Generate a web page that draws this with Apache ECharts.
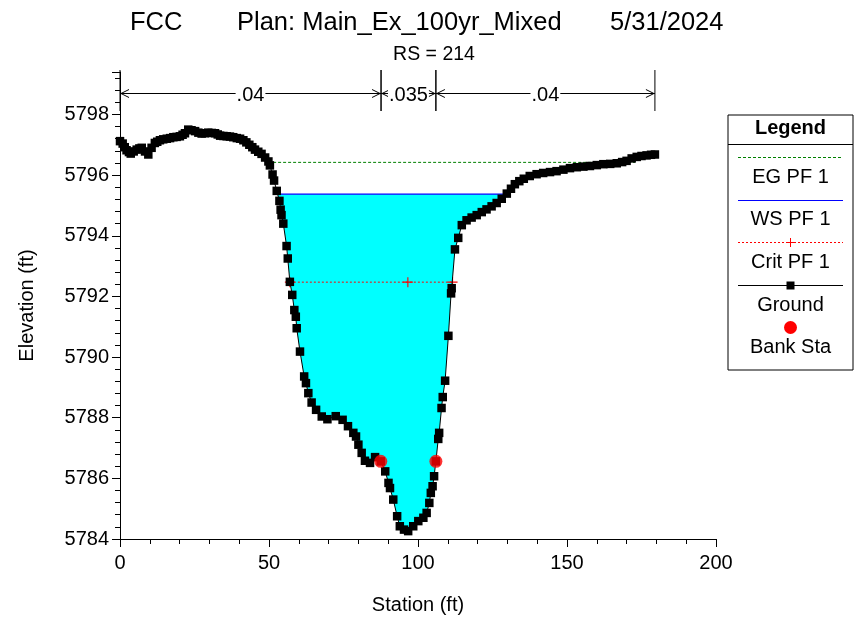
<!DOCTYPE html>
<html><head><meta charset="utf-8">
<script src="https://cdn.jsdelivr.net/npm/echarts@6/dist/echarts.min.js"></script>
<style>html,body{margin:0;padding:0;background:#fff}#c{width:855px;height:621px}</style>
</head><body><div id="c"></div>
<script>
// ---------- data ----------
const groundStation = [0,0.9,1.6,2.2,3.0,3.6,4.6,5.6,6.5,7.3,8.4,9.5,10.6,11.7,12.5,13.4,14.5,15.7,16.8,17.9,19.0,20.1,21.0,21.8,22.9,24.0,25.2,26.3,27.4,28.5,29.6,30.8,31.9,32.8,33.6,34.7,35.8,36.9,38,39.2,40.3,41.4,42.4,43.4,44.4,45.3,46.4,47.5,48.7,49.8,50.3,51.2,51.7,52.6,53.5,53.9,54.2,54.8,55.9,56.3,57.0,57.8,58.5,59.0,59.3,60.4,61.8,62.4,63.2,64.3,65.8,67.7,69.6,72.4,74.7,76.5,78.3,79.2,80.0,81.1,82.2,83.9,85.6,87.5,89.0,90.1,90.6,91.7,93.0,93.9,95.3,96.7,98.4,100.1,101.8,102.9,103.8,104.3,104.9,105.4,106.0,106.8,107.1,107.9,108.3,109.1,110.2,111.1,111.3,112.4,113.5,114.7,116.3,118,119.7,121.4,123,124.7,126.4,128.1,129.8,131.2,132.5,134,135.5,137.5,139.8,142,144.3,146.5,148.8,151,153.3,155.5,157.7,160,162.2,164.5,166.7,168.5,170.0,171.7,173.4,175,176.7,178.2,179.5];
const groundElev = [5797.12,5797.04,5796.92,5796.82,5796.76,5796.71,5796.78,5796.84,5796.88,5796.9,5796.78,5796.68,5796.9,5797.06,5797.1,5797.15,5797.18,5797.2,5797.22,5797.25,5797.26,5797.28,5797.33,5797.38,5797.5,5797.48,5797.45,5797.4,5797.37,5797.38,5797.4,5797.39,5797.38,5797.34,5797.3,5797.29,5797.28,5797.27,5797.25,5797.22,5797.2,5797.15,5797.08,5797.0,5796.92,5796.84,5796.77,5796.7,5796.58,5796.45,5796.32,5796.02,5795.82,5795.48,5795.15,5794.86,5794.68,5794.4,5793.66,5793.25,5792.48,5792.05,5791.55,5791.33,5790.95,5790.18,5789.36,5789.14,5788.81,5788.5,5788.26,5788.04,5787.95,5788.05,5787.93,5787.72,5787.5,5787.38,5787.11,5786.84,5786.58,5786.51,5786.7,5786.56,5786.23,5785.85,5785.68,5785.3,5784.75,5784.42,5784.31,5784.26,5784.42,5784.59,5784.7,5784.86,5785.19,5785.52,5785.74,5786.07,5786.56,5787.3,5787.5,5788.32,5788.68,5789.22,5790.7,5792.1,5792.27,5793.55,5793.93,5794.35,5794.51,5794.6,5794.68,5794.78,5794.87,5794.97,5795.08,5795.22,5795.39,5795.55,5795.7,5795.8,5795.88,5795.97,5796.03,5796.07,5796.1,5796.13,5796.18,5796.23,5796.26,5796.28,5796.3,5796.33,5796.36,5796.37,5796.39,5796.43,5796.47,5796.55,5796.6,5796.63,5796.65,5796.67,5796.68];
const bankStation = [87.5, 106.0];
const bankElev = [5786.56, 5786.56];
const wsElev = 5795.37;
const egElev = 5796.42;
const egStation = [49.7, 172.8];
const critElev = 5792.47;
const critStation = [57.0, 96.6, 111.6];
const nBreakStation = [0, 87.6, 106.0, 179.5];
const nValueLabel = ['.04', '.035', '.04'];
const xAxisRange = [0, 200, 50];
const yAxisRange = [5784, 5799.4, 2];
const titleParts = ['FCC', 'Plan: Main_Ex_100yr_Mixed', '5/31/2024'];
const subTitle = 'RS = 214';
const legendNames = ['EG PF 1', 'WS PF 1', 'Crit PF 1', 'Ground', 'Bank Sta'];

// ---------- derived ----------
const FONT = '"Liberation Sans", Arial, sans-serif';
const groundPts = groundStation.map((x, i) => [x, groundElev[i]]);
const n = groundElev.length;
const iMin = groundElev.indexOf(Math.min(...groundElev));
let a = iMin; while (a > 0 && groundElev[a - 1] < wsElev) a--;
let b = iMin; while (b < n - 1 && groundElev[b + 1] < wsElev) b++;
function cross(i, j) {
  const t = (wsElev - groundElev[i]) / (groundElev[j] - groundElev[i]);
  return groundStation[i] + t * (groundStation[j] - groundStation[i]);
}
const wsLeft = cross(a - 1, a), wsRight = cross(b, b + 1);
const waterPoly = [[wsLeft, wsElev]].concat(groundPts.slice(a, b + 1)).concat([[wsRight, wsElev]]);
const plusPath = 'path://M4,0h1v4h4v1h-4v4h-1v-4h-4v-1h4z';

const chart = echarts.init(document.getElementById('c'), null, {renderer: 'canvas'});

const legendX = 728, legendY = 115, legendW = 125, legendH = 255;
const lx1 = 738, lx2 = 843, lcx = 790.5;
const LF = '20px ' + FONT;
const legendGraphics = [
  {type: 'rect', shape: {x: legendX, y: legendY, width: legendW, height: legendH}, style: {fill: '#fff', stroke: '#000', lineWidth: 1}},
  {type: 'line', shape: {x1: legendX, y1: 144.5, x2: legendX + legendW, y2: 144.5}, style: {stroke: '#000', lineWidth: 1}},
  {type: 'text', x: lcx, y: 128, style: {text: 'Legend', font: 'bold 20px ' + FONT, fill: '#000', align: 'center', verticalAlign: 'middle'}},
  {type: 'line', shape: {x1: lx1, y1: 157.5, x2: lx2, y2: 157.5}, style: {stroke: '#008000', lineWidth: 1, lineDash: [3, 2]}},
  {type: 'text', x: lcx, y: 177, style: {text: legendNames[0], font: LF, fill: '#000', align: 'center', verticalAlign: 'middle'}},
  {type: 'line', shape: {x1: lx1, y1: 200.5, x2: lx2, y2: 200.5}, style: {stroke: '#0000ff', lineWidth: 1}},
  {type: 'text', x: lcx, y: 219, style: {text: legendNames[1], font: LF, fill: '#000', align: 'center', verticalAlign: 'middle'}},
  {type: 'line', shape: {x1: lx1, y1: 242.5, x2: lx2, y2: 242.5}, style: {stroke: '#ff0000', lineWidth: 1, lineDash: [2, 2]}},
  {type: 'line', shape: {x1: lcx, y1: 238, x2: lcx, y2: 247}, style: {stroke: '#ff0000', lineWidth: 1}},
  {type: 'line', shape: {x1: lcx - 4.5, y1: 242.5, x2: lcx + 4.5, y2: 242.5}, style: {stroke: '#ff0000', lineWidth: 1}},
  {type: 'text', x: lcx, y: 262, style: {text: legendNames[2], font: LF, fill: '#000', align: 'center', verticalAlign: 'middle'}},
  {type: 'line', shape: {x1: lx1, y1: 285.5, x2: lx2, y2: 285.5}, style: {stroke: '#000', lineWidth: 1}},
  {type: 'rect', shape: {x: lcx - 4, y: 281.5, width: 8, height: 8}, style: {fill: '#000'}},
  {type: 'text', x: lcx, y: 305, style: {text: legendNames[3], font: LF, fill: '#000', align: 'center', verticalAlign: 'middle'}},
  {type: 'circle', shape: {cx: lcx, cy: 327.5, r: 6.5}, style: {fill: '#ff0000'}},
  {type: 'text', x: lcx, y: 347, style: {text: legendNames[4], font: LF, fill: '#000', align: 'center', verticalAlign: 'middle'}}
];

const TF = '25.5px ' + FONT;
const option = {
  animation: false,
  backgroundColor: '#fff',
  grid: {left: 120, right: 139, top: 72, bottom: 82, containLabel: false},
  xAxis: {
    type: 'value', min: xAxisRange[0], max: xAxisRange[1], interval: xAxisRange[2],
    name: 'Station (ft)', nameLocation: 'middle', nameGap: 56,
    nameTextStyle: {fontFamily: FONT, fontSize: 20, color: '#000'},
    axisLine: {show: true, lineStyle: {color: '#000', width: 1}},
    axisTick: {show: true, length: 8, lineStyle: {color: '#000'}},
    minorTick: {show: true, splitNumber: 5, length: 5, lineStyle: {color: '#000'}},
    axisLabel: {fontFamily: FONT, fontSize: 20, color: '#000', margin: 14, formatter: v => String(v)},
    splitLine: {show: false}, minorSplitLine: {show: false}
  },
  yAxis: {
    type: 'value', min: yAxisRange[0], max: yAxisRange[1], interval: yAxisRange[2],
    name: 'Elevation (ft)', nameLocation: 'middle', nameGap: 83, nameRotate: 90,
    nameTextStyle: {fontFamily: FONT, fontSize: 20, color: '#000'},
    axisLine: {show: true, lineStyle: {color: '#000', width: 1}},
    axisTick: {show: true, length: 8, lineStyle: {color: '#000'}},
    minorTick: {show: true, splitNumber: 5, length: 5, lineStyle: {color: '#000'}},
    axisLabel: {fontFamily: FONT, fontSize: 20, color: '#000', margin: 11, showMaxLabel: false, formatter: v => String(v)},
    splitLine: {show: false}, minorSplitLine: {show: false}
  },
  graphic: [
    {type: 'text', x: 130, y: 23, style: {text: titleParts[0], font: TF, fill: '#000', verticalAlign: 'middle'}},
    {type: 'text', x: 237, y: 23, style: {text: titleParts[1], font: TF, fill: '#000', verticalAlign: 'middle'}},
    {type: 'text', x: 610, y: 23, style: {text: titleParts[2], font: TF, fill: '#000', verticalAlign: 'middle'}},
    {type: 'text', x: 434, y: 55, style: {text: subTitle, font: '19.5px ' + FONT, fill: '#000', align: 'center', verticalAlign: 'middle'}}
  ].concat(legendGraphics),
  series: [
    {
      type: 'custom', name: 'water', z: 1, clip: false,
      data: [[wsLeft, wsElev]],
      renderItem: (params, api) => ({
        type: 'polygon',
        shape: {points: waterPoly.map(p => api.coord(p))},
        style: {fill: '#00ffff', stroke: null}
      })
    },
    {
      type: 'line', name: 'EG PF 1', z: 3,
      data: egStation.map(x => [x, egElev]),
      symbol: 'none', lineStyle: {color: '#008000', width: 1, type: [3, 2]}
    },
    {
      type: 'line', name: 'WS PF 1', z: 3,
      data: [[wsLeft, wsElev], [wsRight, wsElev]],
      symbol: 'none', lineStyle: {color: '#0000ff', width: 1.3}
    },
    {
      type: 'line', name: 'Crit PF 1', z: 4,
      data: critStation.map(x => [x, critElev]),
      symbol: plusPath, symbolSize: 10,
      itemStyle: {color: '#ff0000'},
      lineStyle: {color: '#ff0000', width: 1, type: [2, 2]}
    },
    {
      type: 'line', name: 'Ground', z: 5,
      data: groundPts,
      symbol: 'rect', symbolSize: 8.5,
      itemStyle: {color: '#000'},
      lineStyle: {color: '#000', width: 1}
    },
    {
      type: 'scatter', name: 'Bank Sta', z: 6,
      data: bankStation.map((x, i) => [x, bankElev[i]]),
      symbol: 'circle', symbolSize: 13,
      itemStyle: {color: '#ff0000'}
    },
    {
      type: 'custom', name: 'n values', z: 7, clip: false,
      data: nValueLabel.map((lab, i) => [nBreakStation[i], nBreakStation[i + 1], i]),
      renderItem: (params, api) => {
        const x1 = api.coord([api.value(0), yAxisRange[0]])[0];
        const x2 = api.coord([api.value(1), yAxisRange[0]])[0];
        const top = params.coordSys.y;
        const y = top + 21.5;
        const st = {stroke: '#000', lineWidth: 1, fill: null};
        return {
          type: 'group',
          children: [
            {type: 'line', shape: {x1: x1, y1: y, x2: x2, y2: y}, style: st},
            {type: 'polyline', shape: {points: [[x1 + 9, y - 4], [x1 + 1, y], [x1 + 9, y + 4]]}, style: st},
            {type: 'polyline', shape: {points: [[x2 - 9, y - 4], [x2 - 1, y], [x2 - 9, y + 4]]}, style: st},
            {type: 'line', shape: {x1: x1, y1: top - 2, x2: x1, y2: top + 39}, style: st},
            {type: 'line', shape: {x1: x2, y1: top - 2, x2: x2, y2: top + 39}, style: st},
            {type: 'text', x: (x1 + x2) / 2, y: y + 1.5, style: {text: nValueLabel[api.value(2)], font: '20px ' + FONT, fill: '#000', align: 'center', verticalAlign: 'middle', backgroundColor: '#fff', padding: [0, 1]}}
          ]
        };
      }
    }
  ]
};
chart.setOption(option);
</script>
</body></html>
